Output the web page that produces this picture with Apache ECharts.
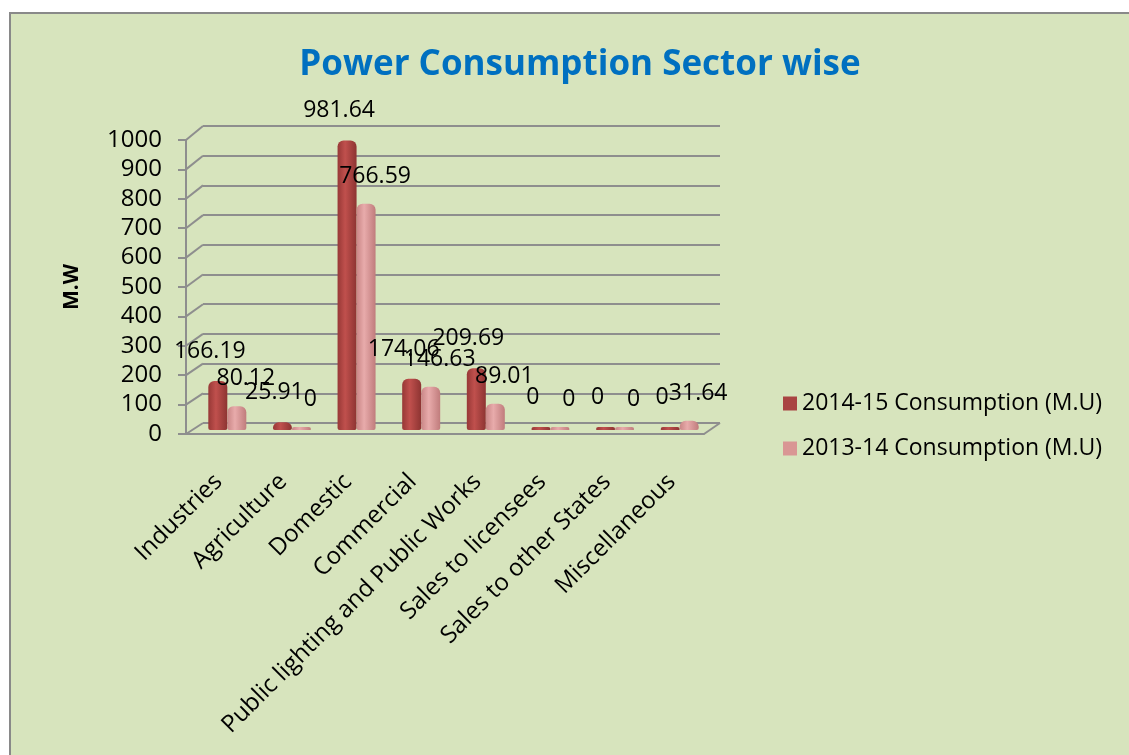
<!DOCTYPE html>
<html>
<head>
<meta charset="utf-8">
<script src="https://cdn.jsdelivr.net/npm/echarts@6/dist/echarts.min.js"></script>
<style>
  html, body { margin: 0; padding: 0; background: #fff; }
  #chart { width: 1129px; height: 755px; }
</style>
</head>
<body>
<div id="chart"></div>
<script>
var categories = ['Industries', 'Agriculture', 'Domestic', 'Commercial',
  'Public lighting and Public Works', 'Sales to licensees', 'Sales to other States', 'Miscellaneous'];
var cons1415 = [166.19, 25.91, 981.64, 174.06, 209.69, 0, 0, 0];
var cons1314 = [80.12, 0, 766.59, 146.63, 89.01, 0, 0, 31.64];
var yTicks = [0, 100, 200, 300, 400, 500, 600, 700, 800, 900, 1000];

var W = 1129, H = 755;
// front edge of the 3d box, back wall, and the middle plane where the bars stand
var front = { left: 186, right: 704, top: 140, bottom: 434 };
var back = { left: 203, right: 720, top: 126, bottom: 423 };
var mid = { left: 195, right: 712, top: 135, bottom: 430 };
var lineCol = '#8e8e8e';
var font = 'Open Sans';

function gridOf(r) {
  return { left: r.left, right: W - r.right, top: r.top, bottom: H - r.bottom, containLabel: false };
}

function cyl(a, b, c) {
  return new echarts.graphic.LinearGradient(0, 0, 1, 0, [
    { offset: 0, color: a }, { offset: 0.4, color: b }, { offset: 1, color: c }
  ]);
}

var chart = echarts.init(document.getElementById('chart'));

var option = {
  animation: false,
  textStyle: { fontFamily: font },
  title: {
    text: 'Power Consumption Sector wise',
    left: 575, top: 43, textAlign: 'center',
    textStyle: { color: '#0070c0', fontSize: 35, fontWeight: 'bold', fontFamily: font }
  },
  legend: {
    orient: 'vertical', left: 778, top: 387,
    itemWidth: 14, itemHeight: 14, itemGap: 22, icon: 'rect',
    textStyle: { fontSize: 23, color: '#000', fontFamily: font },
    data: [
      { name: '2014-15 Consumption (M.U)', itemStyle: { color: '#a94442' } },
      { name: '2013-14 Consumption (M.U)', itemStyle: { color: '#d99694' } }
    ]
  },
  grid: [gridOf(front), gridOf(back), gridOf(mid)],
  xAxis: [
    {
      gridIndex: 0, type: 'category', data: categories,
      axisLine: { lineStyle: { color: lineCol, width: 2 } },
      axisTick: { length: 9, lineStyle: { color: lineCol, width: 2 } },
      axisLabel: { rotate: 45, margin: 44, fontSize: 24, color: '#000', fontFamily: font, interval: 0 }
    },
    { gridIndex: 1, type: 'category', data: categories, show: false },
    { gridIndex: 2, type: 'category', data: categories, show: false }
  ],
  yAxis: [
    {
      gridIndex: 0, type: 'value', min: 0, max: 1000, interval: 100,
      name: 'M.W', nameLocation: 'middle', nameRotate: 90, nameGap: 103,
      nameTextStyle: { fontSize: 21, fontWeight: 'bold', color: '#000', fontFamily: font },
      axisLine: { show: true, lineStyle: { color: lineCol, width: 2 } },
      axisTick: { show: true, length: 8, lineStyle: { color: lineCol, width: 2 } },
      axisLabel: {
        fontSize: 24, color: '#000', margin: 24, fontFamily: font,
        formatter: function (v) { return String(v); }
      },
      splitLine: { show: false }
    },
    {
      gridIndex: 1, type: 'value', min: 0, max: 1000, interval: 100,
      axisLine: { show: false }, axisTick: { show: false }, axisLabel: { show: false },
      splitLine: { show: true, lineStyle: { color: lineCol, width: 2 } }
    },
    {
      gridIndex: 2, type: 'value', min: 0, max: 1000, interval: 100, show: false,
      splitLine: { show: false }
    }
  ],
  series: [
    {
      name: '2014-15 Consumption (M.U)', type: 'bar', xAxisIndex: 2, yAxisIndex: 2,
      data: cons1415, barWidth: 19, barGap: '0%', barMinHeight: 3,
      itemStyle: { color: cyl('#973836', '#c0504d', '#8d3432'), borderRadius: [6, 6, 2, 2] },
      label: {
        show: true, position: 'top', distance: 4, offset: [-8, -14],
        fontSize: 23, color: '#000', fontFamily: font
      }
    },
    {
      name: '2013-14 Consumption (M.U)', type: 'bar', xAxisIndex: 2, yAxisIndex: 2,
      data: cons1314, barWidth: 19, barMinHeight: 3,
      itemStyle: { color: cyl('#c98686', '#e8abab', '#c07c7c'), borderRadius: [6, 6, 2, 2] },
      label: {
        show: true, position: 'top', distance: 4, offset: [9, -12],
        fontSize: 23, color: '#000', fontFamily: font
      }
    }
  ],
  graphic: [{
    type: 'rect', z: -10, silent: true,
    shape: { x: 10, y: 13, width: 1200, height: 800 },
    style: { fill: '#d7e4bd', stroke: '#898989', lineWidth: 2 }
  }]
};

chart.setOption(option);

// wall and floor edges of the 3d box, placed through the two value axes
var edges = [];
yTicks.forEach(function (v) {
  var yf = chart.convertToPixel({ yAxisIndex: 0 }, v);
  var yb = chart.convertToPixel({ yAxisIndex: 1 }, v);
  edges.push({
    type: 'line', silent: true, z: 1,
    shape: { x1: front.left, y1: yf, x2: back.left, y2: yb },
    style: { stroke: lineCol, lineWidth: 2 }
  });
});
edges.push({
  type: 'line', silent: true, z: 1,
  shape: {
    x1: front.right, y1: chart.convertToPixel({ yAxisIndex: 0 }, 0),
    x2: back.right, y2: chart.convertToPixel({ yAxisIndex: 1 }, 0)
  },
  style: { stroke: lineCol, lineWidth: 2 }
});
chart.setOption({ graphic: option.graphic.concat(edges) });
</script>
</body>
</html>
